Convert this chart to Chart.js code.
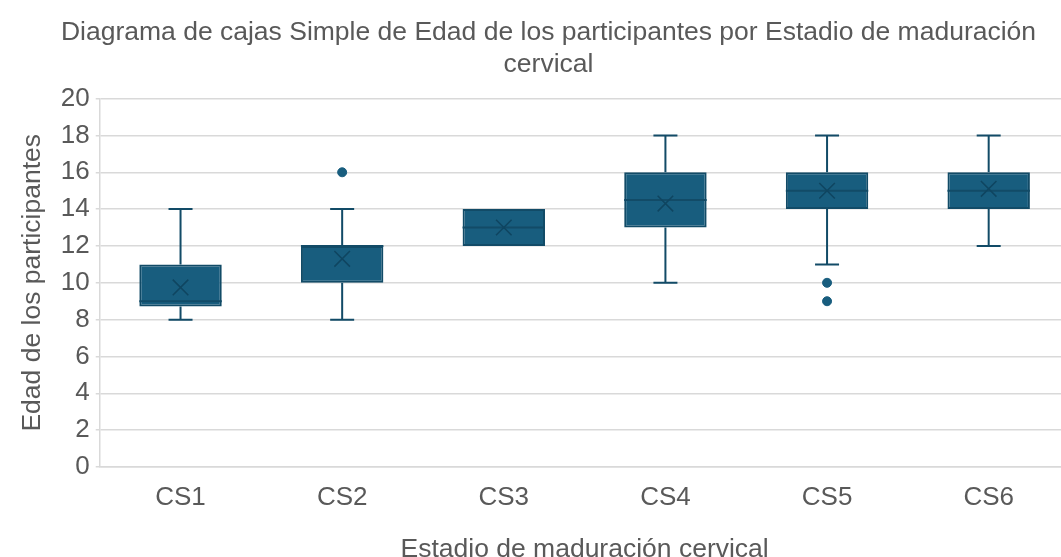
<!DOCTYPE html>
<html>
<head>
<meta charset="utf-8">
<script src="https://cdn.jsdelivr.net/npm/chart.js@4"></script>
<style>
  html, body { margin: 0; padding: 0; background: #fff; overflow: hidden; }
  #wrap { position: relative; width: 1082px; height: 566px; }
</style>
</head>
<body>
<div id="wrap"><canvas id="chart"></canvas></div>
<script>
const categories = ["CS1", "CS2", "CS3", "CS4", "CS5", "CS6"];
const whiskerMin = [8, 8, 12, 10, 11, 12];
const q1 = [8.72, 10, 12, 13, 14, 14];
const medians = [9, 12, 13, 14.5, 15, 15];
const q3 = [11, 12, 14, 16, 16, 16];
const whiskerMax = [14, 14, 14, 18, 18, 18];
const means = [9.75, 11.3, 13, 14.3, 15, 15.1];
const outlierCats = ["CS2", "CS5", "CS5"];
const outlierValues = [16, 10, 9];

const boxFill = "#185d7e";
const boxLine = "#124b67";
const textColor = "#595959";
const font = "'Liberation Sans', Arial, sans-serif";

// whiskers + median line, drawn right after the boxes
const boxExtras = {
  id: "boxExtras",
  afterDatasetDraw(chart, args) {
    if (args.index !== 0) return;
    const ctx = chart.ctx;
    const x = chart.scales.x;
    const y = chart.scales.y;
    const bars = args.meta.data;
    ctx.save();
    ctx.strokeStyle = boxLine;
    ctx.lineWidth = 2;
    categories.forEach((c, i) => {
      const cx = x.getPixelForValue(i);
      const cap = 12;
      ctx.beginPath();
      if (whiskerMin[i] < q1[i]) {
        ctx.moveTo(cx, y.getPixelForValue(q1[i]));
        ctx.lineTo(cx, y.getPixelForValue(whiskerMin[i]));
        ctx.moveTo(cx - cap, y.getPixelForValue(whiskerMin[i]));
        ctx.lineTo(cx + cap, y.getPixelForValue(whiskerMin[i]));
      }
      if (whiskerMax[i] > q3[i]) {
        ctx.moveTo(cx, y.getPixelForValue(q3[i]));
        ctx.lineTo(cx, y.getPixelForValue(whiskerMax[i]));
        ctx.moveTo(cx - cap, y.getPixelForValue(whiskerMax[i]));
        ctx.lineTo(cx + cap, y.getPixelForValue(whiskerMax[i]));
      }
      const w = bars[i].width / 2;
      const my = y.getPixelForValue(medians[i]);
      ctx.moveTo(cx - w, my);
      ctx.lineTo(cx + w, my);
      ctx.stroke();
    });
    ctx.restore();
  }
};

new Chart(document.getElementById("chart"), {
  type: "bar",
  data: {
    labels: categories,
    datasets: [
      {
        label: "Caja",
        data: categories.map((c, i) => [q1[i], q3[i]]),
        backgroundColor: boxFill,
        borderColor: boxLine,
        borderWidth: 2,
        borderSkipped: false,
        barPercentage: 0.51,
        categoryPercentage: 1,
        order: 2
      },
      {
        type: "line",
        label: "Media",
        data: categories.map((c, i) => ({ x: c, y: means[i] })),
        showLine: false,
        pointStyle: "crossRot",
        pointRadius: 11,
        pointBorderWidth: 1.5,
        pointBorderColor: "#0f4560",
        order: 1
      },
      {
        type: "line",
        label: "Atípicos",
        data: outlierCats.map((c, i) => ({ x: c, y: outlierValues[i] })),
        showLine: false,
        pointStyle: "circle",
        pointRadius: 4.5,
        pointBackgroundColor: boxFill,
        pointBorderColor: boxFill,
        order: 1
      }
    ]
  },
  options: {
    responsive: true,
    maintainAspectRatio: false,
    animation: false,
    layout: { padding: { top: 0, right: 2, left: 17, bottom: 0 } },
    plugins: {
      legend: { display: false },
      tooltip: { enabled: false },
      title: {
        display: true,
        text: ["Diagrama de cajas Simple de Edad de los participantes por Estadio de maduración", "cervical"],
        color: textColor,
        font: { family: font, size: 26.5, weight: "normal", lineHeight: 1.2 },
        padding: { top: 17, bottom: 18 }
      }
    },
    scales: {
      x: {
        grid: { display: false, drawTicks: false },
        border: { color: "#d9d9d9", width: 1.5 },
        ticks: { color: textColor, font: { family: font, size: 26 }, padding: 15 },
        title: {
          display: true,
          text: "Estadio de maduración cervical",
          color: textColor,
          font: { family: font, size: 26.5 },
          padding: { top: 6, bottom: 0 }
        }
      },
      y: {
        min: 0,
        max: 20,
        ticks: { stepSize: 2, color: textColor, font: { family: font, size: 26 }, padding: 6 },
        grid: { color: "#d9d9d9", lineWidth: 1.5, tickLength: 4 },
        border: { color: "#d9d9d9", width: 1.5 },
        title: {
          display: true,
          text: "Edad de los participantes",
          color: textColor,
          font: { family: font, size: 26.5 },
          padding: { top: 0, bottom: 6 }
        }
      }
    }
  },
  plugins: [boxExtras]
});
</script>
</body>
</html>
